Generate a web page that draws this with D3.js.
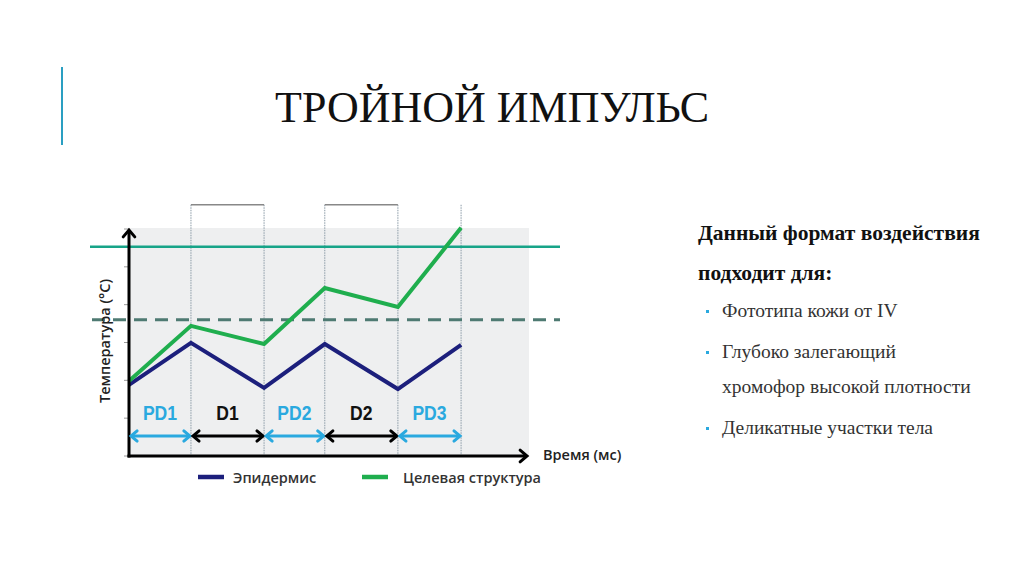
<!DOCTYPE html>
<html>
<head>
<meta charset="utf-8">
<script src="https://cdn.jsdelivr.net/npm/d3@7"></script>
<style>
  html, body { margin: 0; padding: 0; background: #fff; }
  svg { display: block; }
</style>
</head>
<body>
<svg width="1024" height="574"></svg>
<script>
'use strict';
// ........ data ........
const times = [0, 10, 21.8, 31.6, 43.4, 53.6];
const epidermis = [1.88, 2.99, 1.80, 2.96, 1.77, 2.94];
const target = [1.98, 3.44, 2.96, 4.44, 3.94, 6.03];
const segmentLabels = ['PD1', 'D1', 'PD2', 'D2', 'PD3'];
const segmentKinds = ['pulse', 'delay', 'pulse', 'delay', 'pulse'];
const limitSolid = 5.53;
const limitDashed = 3.6;
const yTicks = [0, 1, 2, 3, 4, 5, 6];
const legendLabels = ['Эпидермис', 'Целевая структура'];
const bullets = [['Фототипа кожи от IV'], ['Глубоко залегающий', 'хромофор высокой плотности'], ['Деликатные участки тела']];

const svg = d3.select('svg');

// ........ scales ........
const x = d3.scaleLinear().domain([0, 64.4]).range([129, 528]);
const y = d3.scaleLinear().domain([0, 6]).range([456, 229]);

const colors = { epi: '#1c1f7c', target: '#1fae4e', pulse: '#2aa9df', delay: '#000', solid: '#17a488', dashed: '#4e7a72' };

// ........ header ........
svg.append('line')
  .attr('x1', 62).attr('x2', 62).attr('y1', 67).attr('y2', 145)
  .attr('stroke', '#2a9fc2').attr('stroke-width', 2);

svg.append('text')
  .attr('x', 275).attr('y', 122)
  .attr('font-family', 'Liberation Serif, Times New Roman, serif')
  .attr('font-size', 44)
  .attr('fill', '#111')
  .text('ТРОЙНОЙ ИМПУЛЬС');

// ........ chart ........
const chart = svg.append('g');

chart.append('rect')
  .attr('x', x(0) - 1).attr('y', y(6) - 1)
  .attr('width', x(64.4) - x(0) + 2).attr('height', y(0) - y(6) + 1)
  .attr('fill', '#eeeff0');

// pulse brackets above the plot
const bracketTop = y(6.64);
chart.selectAll('.vline')
  .data(times.slice(1))
  .join('line')
  .attr('x1', d => x(d)).attr('x2', d => x(d))
  .attr('y1', bracketTop).attr('y2', y(0))
  .attr('stroke', '#8a9aa6').attr('stroke-width', 1)
  .attr('stroke-dasharray', '1.5 1');

chart.selectAll('.bracket')
  .data(segmentKinds.map((k, i) => ({ k, i })).filter(d => d.k === 'delay'))
  .join('line')
  .attr('x1', d => x(times[d.i])).attr('x2', d => x(times[d.i + 1]))
  .attr('y1', bracketTop).attr('y2', bracketTop)
  .attr('stroke', '#888').attr('stroke-width', 1.5);

// y ticks
chart.selectAll('.tick')
  .data(yTicks)
  .join('line')
  .attr('x1', x(0) - 5).attr('x2', x(0))
  .attr('y1', d => y(d)).attr('y2', d => y(d))
  .attr('stroke', '#9a9a9a').attr('stroke-width', 1);

// limits
chart.append('line')
  .attr('x1', 90).attr('x2', 560)
  .attr('y1', y(limitSolid)).attr('y2', y(limitSolid))
  .attr('stroke', colors.solid).attr('stroke-width', 2.5);

chart.append('line')
  .attr('x1', 92).attr('x2', 560)
  .attr('y1', y(limitDashed)).attr('y2', y(limitDashed))
  .attr('stroke', colors.dashed).attr('stroke-width', 3)
  .attr('stroke-dasharray', '13 8');

// series
const line = d3.line().x((d, i) => x(times[i])).y(d => y(d));
chart.append('path')
  .attr('d', line(epidermis))
  .attr('fill', 'none').attr('stroke', colors.epi).attr('stroke-width', 4)
  .attr('stroke-linejoin', 'miter');
chart.append('path')
  .attr('d', line(target))
  .attr('fill', 'none').attr('stroke', colors.target).attr('stroke-width', 4)
  .attr('stroke-linejoin', 'miter');

// axes with arrowheads
function chevron(g, tipX, tipY, dir, size, color, width) {
  // dir: angle in radians where arrow points
  const a1 = dir + Math.PI - 0.7, a2 = dir + Math.PI + 0.7;
  g.append('path')
    .attr('d', `M${tipX + size * Math.cos(a1)},${tipY + size * Math.sin(a1)}L${tipX},${tipY}L${tipX + size * Math.cos(a2)},${tipY + size * Math.sin(a2)}`)
    .attr('fill', 'none').attr('stroke', color).attr('stroke-width', width)
    .attr('stroke-linecap', 'round').attr('stroke-linejoin', 'miter');
}

chart.append('line')
  .attr('x1', x(0)).attr('x2', x(0)).attr('y1', y(0) + 1.5).attr('y2', y(6) + 1)
  .attr('stroke', '#000').attr('stroke-width', 3);
chevron(chart, x(0), y(6) + 1, -Math.PI / 2, 9, '#000', 3);

chart.append('line')
  .attr('x1', x(0) - 1.5).attr('x2', x(64.4) - 1).attr('y1', y(0)).attr('y2', y(0))
  .attr('stroke', '#000').attr('stroke-width', 3);
chevron(chart, x(64.4) - 1, y(0), 0, 9, '#000', 3);

// segment arrows and labels
const arrowY = 436;
segmentLabels.forEach((lab, i) => {
  const x1 = x(times[i]) + 2, x2 = x(times[i + 1]) - 1;
  const c = segmentKinds[i] === 'pulse' ? colors.pulse : colors.delay;
  chart.append('line')
    .attr('x1', x1).attr('x2', x2).attr('y1', arrowY).attr('y2', arrowY)
    .attr('stroke', c).attr('stroke-width', 3);
  chevron(chart, x1, arrowY, Math.PI, 8, c, 3);
  chevron(chart, x2, arrowY, 0, 8, c, 3);
  const cx = (x(times[i]) + x(times[i + 1])) / 2;
  chart.append('text')
    .attr('transform', `translate(${cx},420) scale(0.9,1)`)
    .attr('text-anchor', 'middle')
    .attr('font-family', 'Liberation Sans, Arial, sans-serif')
    .attr('font-weight', 'bold')
    .attr('font-size', 19.5)
    .attr('fill', c === colors.pulse ? colors.pulse : '#111')
    .text(lab);
});

// axis titles
chart.append('text')
  .attr('x', 543).attr('y', 460)
  .attr('font-family', 'Open Sans, sans-serif').attr('font-weight', 600)
  .attr('font-size', 14.5).attr('fill', '#222')
  .text('Время (мс)');

chart.append('text')
  .attr('transform', `translate(110,341) rotate(-90)`)
  .attr('text-anchor', 'middle')
  .attr('font-family', 'Open Sans, sans-serif').attr('font-weight', 600)
  .attr('font-size', 14.5).attr('fill', '#222')
  .text('Температура (°С)');

// legend
const legend = chart.append('g');
const legendPos = [{ lx: 198, tx: 233, c: colors.epi }, { lx: 362, tx: 403, c: colors.target }];
legendLabels.forEach((lab, i) => {
  const p = legendPos[i];
  legend.append('line')
    .attr('x1', p.lx).attr('x2', p.lx + 26).attr('y1', 477).attr('y2', 477)
    .attr('stroke', p.c).attr('stroke-width', 4.5);
  legend.append('text')
    .attr('x', p.tx).attr('y', 483)
    .attr('font-family', 'Open Sans, sans-serif').attr('font-weight', 600)
    .attr('font-size', 14.5).attr('fill', '#333')
    .text(lab);
});

// ........ right text ........
const side = svg.append('g')
  .attr('font-family', 'Liberation Serif, Times New Roman, serif');
side.append('text').attr('x', 698).attr('y', 240)
  .attr('font-weight', 'bold').attr('font-size', 21.5).attr('fill', '#111')
  .text('Данный формат воздействия');
side.append('text').attr('x', 698).attr('y', 280)
  .attr('font-weight', 'bold').attr('font-size', 21.5).attr('fill', '#111')
  .text('подходит для:');

const bulletY = [317, 358, 434];
bullets.forEach((lines, i) => {
  side.append('rect')
    .attr('x', 706).attr('y', bulletY[i] - 7).attr('width', 3).attr('height', 3)
    .attr('fill', '#2aa9df');
  lines.forEach((t, j) => {
    side.append('text')
      .attr('x', 722).attr('y', bulletY[i] + j * 35)
      .attr('font-size', 19.5).attr('fill', '#333')
      .text(t);
  });
});
</script>
</body>
</html>
